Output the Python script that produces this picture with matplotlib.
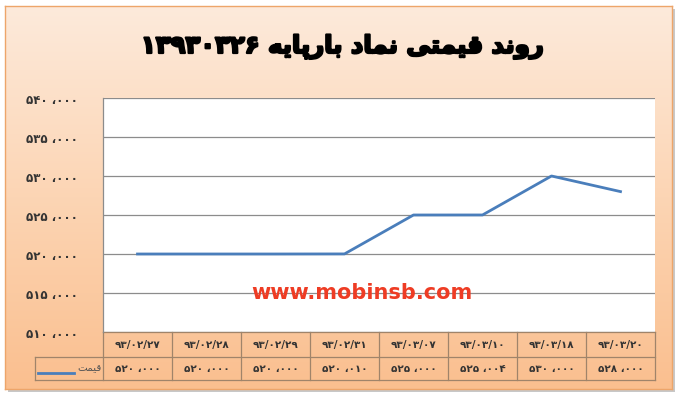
import matplotlib
matplotlib.use("Agg")
import matplotlib.pyplot as plt
import matplotlib.patheffects as pe
import numpy as np
from matplotlib.colors import LinearSegmentedColormap
from matplotlib.patches import Rectangle
from matplotlib.transforms import blended_transform_factory

plt.rcParams['font.family'] = ['DejaVu Sans']

# data
dates = ["۹۳/۰۲/۲۷", "۹۳/۰۲/۲۸", "۹۳/۰۲/۲۹", "۹۳/۰۲/۳۱",
         "۹۳/۰۳/۰۷", "۹۳/۰۳/۱۰", "۹۳/۰۳/۱۸", "۹۳/۰۳/۲۰"]
prices = [520000, 520000, 520000, 520010, 525000, 525004, 530000, 528000]
y_ticks = [510000, 515000, 520000, 525000, 530000, 535000, 540000]

# Persian text written in visual order with presentation forms
# (matplotlib does no Arabic shaping)
w_ravand = "\uFEAA\uFEE7\uFEED\uFEAD"                          # روند
w_gheymati = "\uFEF0\uFE98\uFEE4\uFEF4\uFED7"                   # قیمتی
w_namad = "\uFEA9\uFE8E\uFEE4\uFEE7"                            # نماد
w_barpaye = "\uFEEA\uFEF3\uFE8E\uFB58\uFEAD\uFE8E\uFE91"        # بارپایه
title_num = "۱۳۹۳۰۳۲۶"
title = " ".join([title_num, w_barpaye, w_namad, w_gheymati, w_ravand])
series_name = "\uFE96\uFEE4\uFEF4\uFED7"                         # قیمت

FA = str.maketrans("0123456789", "۰۱۲۳۴۵۶۷۸۹")


def fa_num(v):
  return f"{v:,}".replace(",", " ،").translate(FA)


W, H = 679, 402
fig = plt.figure(figsize=(W / 100, H / 100), dpi=100)
fig.patch.set_facecolor("white")

# outer frame with gradient + shadow
fx0, fx1, fy0, fy1 = 5, 672, 7, 390
shadow = Rectangle(((fx0 + 3) / W, 1 - (fy1 + 3) / H), (fx1 - fx0) / W, (fy1 - fy0) / H,
                   transform=fig.transFigure, facecolor="#c8c8c8", edgecolor="none", zorder=0)
fig.patches.append(shadow)

bg = fig.add_axes([fx0 / W, 1 - fy1 / H, (fx1 - fx0) / W, (fy1 - fy0) / H], zorder=1)
cmap = LinearSegmentedColormap.from_list("peach", ["#fdeadb", "#fcd5b4", "#fabf8f"])
grad = np.linspace(0, 1, 256).reshape(-1, 1)
bg.imshow(grad, aspect="auto", cmap=cmap, extent=[0, 1, 0, 1], origin="upper")
bg.set_xticks([])
bg.set_yticks([])
for s in bg.spines.values():
  s.set_color("#eda56a")
  s.set_linewidth(1.0)

fig.text(342 / W, 1 - 48 / H, title, ha="center", va="center",
         fontsize=17.5, fontweight="bold", color="black", zorder=5,
         path_effects=[pe.withStroke(linewidth=1.6, foreground="black")])

# plot area
ax = fig.add_axes([103 / W, 1 - 333 / H, 552 / W, 234 / H], zorder=2)
ax.set_facecolor("white")
x = np.arange(len(dates))
ax.plot(x, prices, color="#4a7ebb", lw=2.0, solid_joinstyle="round", zorder=3)
ax.set_xlim(-0.5, len(dates) - 0.5)
ax.set_ylim(y_ticks[0], y_ticks[-1])
ax.set_yticks(y_ticks)
ax.set_yticklabels([fa_num(v) for v in y_ticks], fontsize=8.5, fontweight="bold", color="#333333")
ax.tick_params(axis="y", length=0, pad=18)
ax.set_xticks([])
ax.grid(axis="y", color="#8c8c8c", lw=0.9)
ax.set_axisbelow(True)
for side in ["top", "right", "bottom"]:
  ax.spines[side].set_visible(False)
ax.spines["left"].set_color("#8c8c8c")
ax.spines["left"].set_linewidth(0.9)

ax.text(0.469, 0.17, "www.mobinsb.com", transform=ax.transAxes, ha="center", va="center",
        fontsize=15, fontweight="bold", color="#ee3c24", zorder=4)

# data table under the axis
tr = blended_transform_factory(ax.transData, ax.transAxes)
tcol = "#a0846a"
r1 = -25 / 234
r2 = -48 / 234
leg_left = -0.5 - 68 / 69
n = len(dates)
ax.plot([-0.5, n - 0.5], [0, 0], color=tcol, lw=0.9, transform=tr, clip_on=False)
ax.plot([leg_left, n - 0.5], [r1, r1], color=tcol, lw=0.9, transform=tr, clip_on=False)
ax.plot([leg_left, n - 0.5], [r2, r2], color=tcol, lw=0.9, transform=tr, clip_on=False)
for k in range(n + 1):
  ax.plot([k - 0.5, k - 0.5], [0, r2], color=tcol, lw=0.9, transform=tr, clip_on=False)
ax.plot([leg_left, leg_left], [r1, r2], color=tcol, lw=0.9, transform=tr, clip_on=False)

for i in range(n):
  ax.text(i, r1 / 2, dates[i], transform=tr, ha="center", va="center",
          fontsize=7.5, fontweight="bold", color="#333333")
  ax.text(i, (r1 + r2) / 2, fa_num(prices[i]), transform=tr, ha="center", va="center",
          fontsize=7.5, fontweight="bold", color="#333333")

# legend key inside the table
ax.plot([leg_left + 0.04, leg_left + 0.57], [(r1 + r2) / 2 - 0.02] * 2, color="#4a7ebb",
        lw=2.0, transform=tr, clip_on=False)
ax.text(-0.52, (r1 + r2) / 2 + 0.005, series_name, transform=tr, ha="right", va="center",
        fontsize=7.5, color="#555555")

fig.savefig("out.png", dpi=100)
